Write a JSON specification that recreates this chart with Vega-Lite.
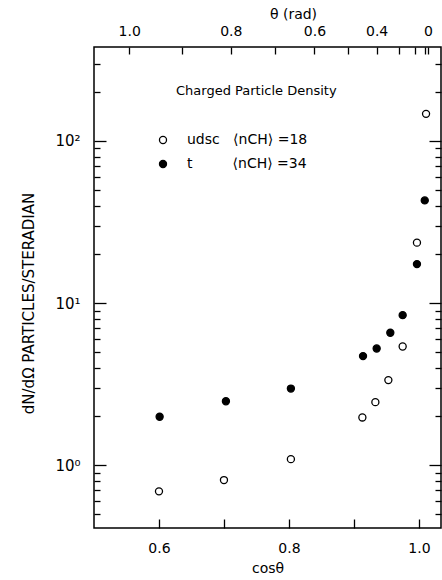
{
  "$schema": "https://vega.github.io/schema/vega-lite/v6.json",
  "autosize": {"type": "none"},
  "width": 347,
  "height": 481,
  "padding": {"left": 94, "top": 47, "right": 1, "bottom": 52},
  "background": "white",
  "config": {
    "font": "DejaVu Sans",
    "view": {"stroke": "black", "strokeWidth": 1.5},
    "axis": {"grid": false, "domain": false, "tickColor": "black", "tickWidth": 1.3, "labelColor": "black", "titleColor": "black", "labelFont": "DejaVu Sans", "titleFont": "DejaVu Sans", "labelFontSize": 14, "titleFontSize": 14, "titleFontWeight": "normal"}
  },
  "title": {"text": "Charged Particle Density", "anchor": "start", "frame": "group", "dx": 82, "dy": 95, "fontSize": 13, "fontWeight": "normal", "font": "DejaVu Sans", "color": "black"},
  "data": {"values": [
    {"cos": 0.600, "dndo": 0.69, "series": "udsc"},
    {"cos": 0.700, "dndo": 0.81, "series": "udsc"},
    {"cos": 0.803, "dndo": 1.09, "series": "udsc"},
    {"cos": 0.913, "dndo": 1.97, "series": "udsc"},
    {"cos": 0.933, "dndo": 2.45, "series": "udsc"},
    {"cos": 0.953, "dndo": 3.35, "series": "udsc"},
    {"cos": 0.975, "dndo": 5.4, "series": "udsc"},
    {"cos": 0.997, "dndo": 23.6, "series": "udsc"},
    {"cos": 1.011, "dndo": 147, "series": "udsc"},
    {"cos": 0.601, "dndo": 1.99, "series": "t"},
    {"cos": 0.703, "dndo": 2.48, "series": "t"},
    {"cos": 0.803, "dndo": 2.97, "series": "t"},
    {"cos": 0.914, "dndo": 4.71, "series": "t"},
    {"cos": 0.935, "dndo": 5.25, "series": "t"},
    {"cos": 0.956, "dndo": 6.56, "series": "t"},
    {"cos": 0.975, "dndo": 8.43, "series": "t"},
    {"cos": 0.997, "dndo": 17.4, "series": "t"},
    {"cos": 1.009, "dndo": 43, "series": "t"}
  ]},
  "resolve": {"axis": {"x": "independent", "y": "independent"}},
  "layer": [
    {
      "transform": [{"filter": "datum.series == 'udsc'"}],
      "mark": {"type": "point", "shape": "circle", "filled": true, "stroke": "black", "strokeWidth": 1.3, "size": 50, "opacity": 1},
      "encoding": {
        "x": {"field": "cos", "type": "quantitative", "scale": {"domain": [0.5, 1.034], "nice": false, "zero": false},
          "axis": {"orient": "bottom", "offset": -9, "tickSize": 9, "values": [0.6, 0.7, 0.8, 0.9, 1.0], "labelExpr": "(abs(datum.value-0.7)<0.01||abs(datum.value-0.9)<0.01)?'':(datum.value==1?'1.0':format(datum.value,'.1f'))", "labelPadding": 13, "title": "cosθ", "titleBaseline": "alphabetic", "titleY": 53}},
        "y": {"field": "dndo", "type": "quantitative", "scale": {"type": "log", "domain": [0.41, 380], "nice": false},
          "axis": {"orient": "left", "offset": -12, "tickSize": 12, "values": [1, 10, 100],
            "labelExpr": "datum.value==1?'10⁰':datum.value==10?'10¹':'10²'",
            "labelPadding": 14, "labelFontSize": 15,
            "title": "dN/dΩ    PARTICLES/STERADIAN", "titleFontSize": 15, "titleX": -78, "titleY": 256, "titleAngle": -90, "titleAlign": "center", "titleBaseline": "middle"}},
        "fill": {"field": "series", "type": "nominal", "scale": {"domain": ["udsc", "t"], "range": ["white", "black"]},
          "legend": {"orient": "none", "legendX": 62, "legendY": 86, "title": null, "padding": 0, "symbolType": "circle", "symbolSize": 50, "symbolStrokeColor": "black", "symbolStrokeWidth": 1.3, "labelFontSize": 14, "labelFont": "DejaVu Sans", "labelColor": "black", "labelOffset": 17, "rowPadding": 10,
            "labelExpr": "datum.value=='udsc'?'udsc\u00a0\u00a0\u00a0⟨nCH⟩ =18':'t\u00a0\u00a0\u00a0\u00a0\u00a0\u00a0\u00a0\u00a0\u00a0⟨nCH⟩ =34'"}}
      }
    },
    {
      "transform": [{"filter": "datum.series == 't'"}],
      "mark": {"type": "point", "shape": "circle", "filled": true, "stroke": "black", "strokeWidth": 1.3, "size": 50, "opacity": 1},
      "encoding": {
        "x": {"field": "cos", "type": "quantitative",
          "axis": {"orient": "top", "offset": -7, "tickSize": 7, "tickOffset": 9, "values": [0.540302, 0.621610, 0.696707, 0.764842, 0.825336, 0.877583, 0.921061, 0.955336, 0.980067, 0.995004, 1.0],
            "labelExpr": "(round(acos(min(datum.value,1))*10)==10)?'1.0':(round(acos(min(datum.value,1))*10)==8)?'0.8':(round(acos(min(datum.value,1))*10)==6)?'0.6':(round(acos(min(datum.value,1))*10)==4)?'0.4':(round(acos(min(datum.value,1))*10)==0)?'0':''",
            "labelPadding": 9, "labelOverlap": false, "labelBound": false,
            "title": "θ   (rad)", "titleX": 199, "titleY": -36, "titleBaseline": "alphabetic", "titleAlign": "center"}},
        "y": {"field": "dndo", "type": "quantitative",
          "axis": {"orient": "right", "offset": -12, "tickSize": 12, "values": [1, 10, 100], "labels": false, "title": null}},
        "fill": {"field": "series", "type": "nominal"}
      }
    },
    {
      "mark": {"type": "point", "opacity": 0},
      "encoding": {
        "x": {"field": "cos", "type": "quantitative", "axis": null},
        "y": {"field": "dndo", "type": "quantitative",
          "axis": {"orient": "left", "offset": -6, "tickSize": 6, "values": [0.5, 0.6, 0.7, 0.8, 0.9, 2, 3, 4, 5, 6, 7, 8, 9, 20, 30, 40, 50, 60, 70, 80, 90, 200, 300], "labels": false, "title": null}}
      }
    },
    {
      "mark": {"type": "point", "opacity": 0},
      "encoding": {
        "x": {"field": "cos", "type": "quantitative", "axis": null},
        "y": {"field": "dndo", "type": "quantitative",
          "axis": {"orient": "right", "offset": -6, "tickSize": 6, "values": [0.5, 0.6, 0.7, 0.8, 0.9, 2, 3, 4, 5, 6, 7, 8, 9, 20, 30, 40, 50, 60, 70, 80, 90, 200, 300], "labels": false, "title": null}}
      }
    }
  ]
}
